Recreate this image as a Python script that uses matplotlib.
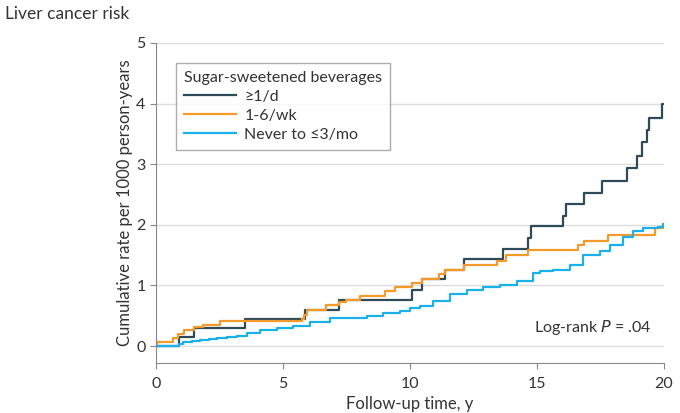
import numpy as np
import matplotlib.pyplot as plt

plt.rcParams['font.family'] = ['Lato', 'DejaVu Sans']

# step data: follow-up time (y) and cumulative rate
daily_t = [0, 0.91, 1.51, 3.5, 5.88, 7.22, 10.07, 10.46, 11.38, 12.13, 13.67,
           14.66, 14.78, 16.04, 16.15, 16.85, 17.57, 18.53, 18.92, 19.15,
           19.32, 19.41, 19.91, 20.0]
daily_r = [0, 0.15, 0.30, 0.45, 0.60, 0.76, 0.93, 1.10, 1.25, 1.43, 1.60,
           1.78, 1.98, 2.15, 2.34, 2.53, 2.73, 2.93, 3.14, 3.36,
           3.56, 3.77, 4.0, 4.0]

weekly_t = [0, 0.03, 0.66, 0.87, 1.12, 1.51, 1.86, 2.52, 5.74, 5.83, 5.93,
            6.68, 7.22, 7.48, 8.03, 9.02, 9.41, 10.07, 10.46, 11.15, 11.38,
            12.13, 13.41, 13.77, 14.66, 16.63, 16.85, 17.81, 19.65, 20.0]
weekly_r = [0, 0.06, 0.13, 0.20, 0.26, 0.31, 0.34, 0.41, 0.45, 0.51, 0.60,
            0.68, 0.72, 0.76, 0.82, 0.90, 0.97, 1.04, 1.10, 1.19, 1.25,
            1.34, 1.41, 1.50, 1.58, 1.66, 1.74, 1.83, 1.94, 1.94]

never_t = [0, 0.9, 1.07, 1.4, 1.73, 2.1, 2.39, 2.8, 3.18, 3.57, 4.09, 4.75,
           5.41, 6.06, 6.85, 7.64, 8.29, 8.95, 9.61, 10.0, 10.39, 10.92,
           11.57, 12.23, 12.89, 13.54, 14.2, 14.86, 15.12, 15.64, 16.3,
           16.82, 17.48, 17.87, 18.4, 18.79, 19.19, 19.58, 19.78, 19.97, 20.0]
never_r = [0, 0.03, 0.07, 0.09, 0.10, 0.12, 0.13, 0.15, 0.16, 0.21, 0.26,
           0.29, 0.33, 0.40, 0.46, 0.47, 0.50, 0.54, 0.57, 0.62, 0.66, 0.74,
           0.86, 0.92, 0.98, 1.01, 1.08, 1.20, 1.23, 1.25, 1.34,
           1.50, 1.56, 1.67, 1.80, 1.89, 1.94, 1.94, 1.97, 2.02, 2.02]

labels = ['≥1/d', '1-6/wk', 'Never to ≤3/mo']
colors = ['#2e4b57', '#f39a2a', '#1ab0e8']

fig = plt.figure(figsize=(6.8, 4.13), dpi=100)
ax = fig.add_axes([0.2294, 0.121, 0.7471, 0.775])

txt = '#333333'
for t, r, lab, c in zip([daily_t, weekly_t, never_t],
                        [daily_r, weekly_r, never_r], labels, colors):
    ax.step(t, r, where='post', color=c, lw=1.6, label=lab)

ax.set_xlim(0, 20)
ax.set_ylim(-0.28, 5)
ax.set_xticks([0, 5, 10, 15, 20])
ax.set_yticks([0, 1, 2, 3, 4, 5])
ax.grid(axis='y', color='#dcdcdc', lw=1)
ax.set_axisbelow(True)
for s in ['top', 'right']:
    ax.spines[s].set_visible(False)
for s in ['left', 'bottom']:
    ax.spines[s].set_color('#888888')
ax.tick_params(colors='#888888', labelcolor=txt, labelsize=11.5, length=4)
ax.tick_params(axis='x', pad=6)

ax.set_xlabel('Follow-up time, y', fontsize=12, color=txt, labelpad=4)
ax.set_ylabel('Cumulative rate per 1000 person-years', fontsize=12,
              color=txt, labelpad=2)
fig.text(0.008, 0.965, 'Liver cancer risk', fontsize=12.5, color=txt, va='center')

ax.text(19.5, 0.31, 'Log-rank $\\it{P}$ = .04', fontsize=11.5, color=txt,
        ha='right', va='center')

leg = ax.legend(title='Sugar-sweetened beverages', loc='upper left',
                bbox_to_anchor=(0.039, 0.9375), borderaxespad=0,
                fontsize=11.5, title_fontsize=11.5, fancybox=False,
                edgecolor='#999999', handlelength=3.3, labelspacing=0.3,
                handletextpad=0.5, borderpad=0.5)
leg._legend_box.align = 'left'
leg.get_frame().set_linewidth(1)
for t in leg.get_texts():
    t.set_color(txt)
leg.get_title().set_color(txt)

fig.savefig('out.png', dpi=100)
